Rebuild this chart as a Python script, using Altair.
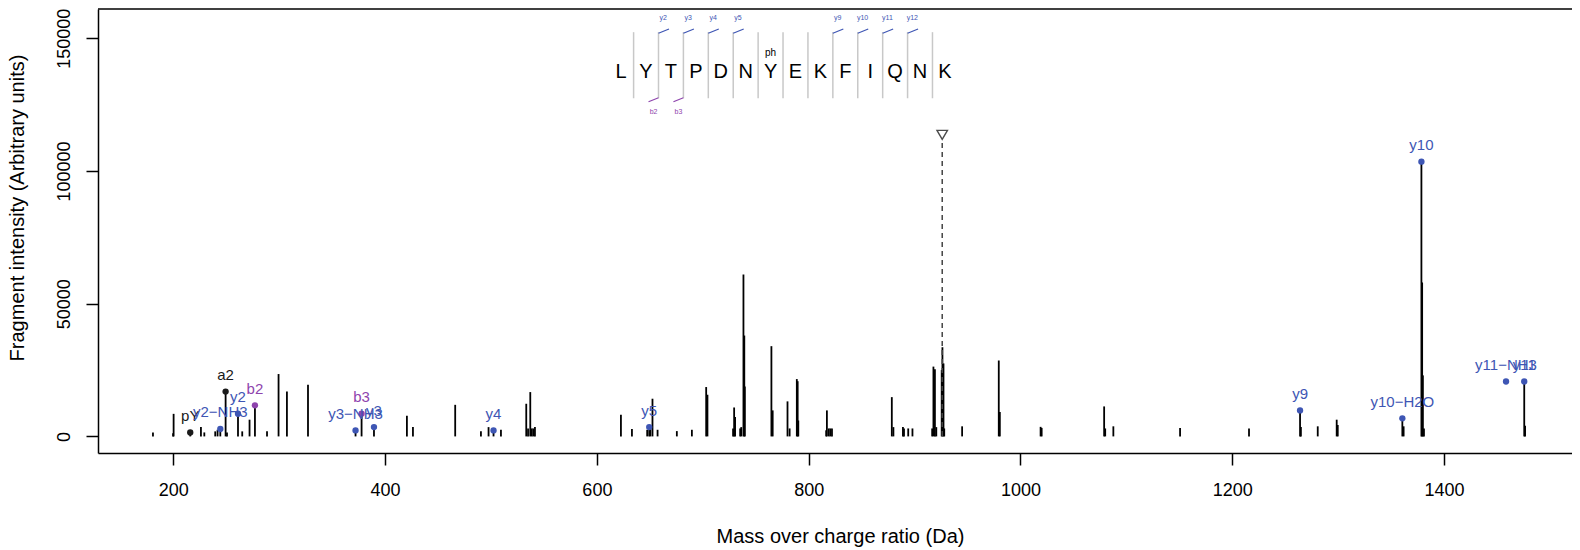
import altair as alt
import pandas as pd

# ---------------- data ----------------
peak_mz = [180.8, 199.8, 200.3, 216.0, 226.1, 229.3, 239.6, 241.8, 244.4, 249.4,
           250.7, 261.1, 265.1, 272.0, 277.1, 288.5, 299.4, 307.3, 327.2, 372.1,
           377.8, 389.5, 420.6, 426.3, 466.2, 490.5, 497.7, 502.4, 509.4, 533.3,
           535.0, 537.1, 538.5, 540.0, 541.5, 622.7, 633.1, 647.5, 649.4, 650.5,
           652.5, 657.3, 675.5, 689.7, 703.2, 704.4, 728.6, 729.6, 730.5, 735.3,
           736.3, 738.4, 739.2, 739.7, 764.8, 766.0, 780.0, 782.0, 788.8, 789.6,
           790.2, 816.5, 817.2, 819.0, 820.5, 822.0, 878.5, 880.0, 889.0, 890.0,
           894.0, 898.0, 916.6, 917.8, 919.2, 920.5, 925.6, 926.3, 927.3, 928.0,
           944.9, 979.5, 980.5, 1019.0, 1020.0, 1079.0, 1080.0, 1087.7, 1150.7, 1215.8,
           1264.0, 1264.8, 1280.7, 1298.6, 1299.6, 1360.6, 1361.8, 1378.6, 1379.3, 1380.0,
           1381.0, 1475.7, 1476.5]
peak_int = [1500, 1200, 8500, 1500, 3500, 1500, 1900, 2500, 2800, 16900,
            1500, 8550, 1900, 6300, 11700, 1900, 23500, 16900, 19500, 2250,
            8550, 3500, 7800, 3500, 11900, 1900, 3500, 2250, 2500, 12300,
            3000, 16700, 3000, 3000, 3500, 8150, 2800, 2500, 3500, 3000,
            14200, 2500, 2000, 2500, 18600, 15700, 3000, 10900, 7300, 3000,
            3500, 61000, 38000, 18800, 34000, 9800, 13200, 3000, 21600, 20800,
            6000, 2300, 9800, 3000, 3000, 3000, 14800, 3500, 3500, 3000,
            3000, 3000, 3000, 26300, 25300, 3500, 25000, 33600, 27500, 3000,
            3800, 28600, 9200, 3600, 3200, 11300, 3000, 3800, 3200, 3000,
            9800, 3500, 3800, 6300, 4300, 6800, 3800, 103500, 58000, 23000,
            3000, 20700, 4000]

ion_label = ["pY", "y2\u2212NH3", "a2", "y2", "b2", "y3\u2212NH3", "b3", "y3", "y4", "y5",
             "y9", "y10\u2212H2O", "y10", "y11\u2212NH3", "y11"]
ion_mz = [216.0, 244.4, 249.4, 261.1, 277.1, 372.1, 377.8, 389.5, 502.4, 649.4,
          1264.0, 1360.6, 1378.6, 1458.5, 1475.7]
ion_int = [1500, 2800, 16900, 8550, 11700, 2250, 8550, 3500, 2250, 3500,
           9800, 6800, 103500, 20700, 20700]
ion_kind = ["other", "y", "other", "y", "b", "y", "b", "y", "y", "y",
            "y", "y", "y", "y", "y"]

precursor_mz = [926.1]
precursor_int = [113600]

sequence = list("LYTPDNYEKFIQNK")
phospho_site = [6]
y_mark_text = ["y2", "y3", "y4", "y5", "y9", "y10", "y11", "y12"]
y_mark_sep = [1, 2, 3, 4, 8, 9, 10, 11]
b_mark_text = ["b2", "b3"]
b_mark_sep = [1, 2]

header_left = "Source : QE1_140612_OPL1013_CVA_phosphoproteomic_landscape_AML_C   Scan : 24773"
header_right = "Andromeda score : 57.434"

x_ticks = [200, 400, 600, 800, 1000, 1200, 1400]
y_ticks = [0, 50000, 100000, 150000]

# ---------------- layout (data units) ----------------
X_DOMAIN = [128.9, 1520.8]
Y_DOMAIN = [-6250, 161030]
SEQ_X0, SEQ_DX, SEQ_Y = 622.9, 23.52, 137400
SEP_Y0, SEP_Y1 = 127400, 152300
HEAD_Y = 162350

BLUE = "#3E56B4"
PURPLE = "#8E44AD"
KIND_COLOR = {"y": BLUE, "b": PURPLE, "other": "#1a1a1a"}
FONT = "Liberation Sans"

xs = alt.Scale(domain=X_DOMAIN, nice=False, zero=False)
ys = alt.Scale(domain=Y_DOMAIN, nice=False, zero=False)

x_axis = alt.Axis(values=x_ticks, format="d",
                  title="Mass over charge ratio (Da)", tickSize=12, labelPadding=16,
                  labelBaseline="top", labelFlush=False, labelOverlap=False,
                  titleFontSize=20,
                  titleX=742, titleY=89.4, titleAlign="center", titleBaseline="alphabetic")
y_axis = alt.Axis(values=y_ticks, format="d",
                  title="Fragment intensity (Arbitrary units)", tickSize=12, labelPadding=17,
                  labelAngle=270, labelAlign="center", labelBaseline="alphabetic",
                  labelFlush=False, labelOverlap=False, titleFontSize=20,
                  titleX=-74.5, titleY=198.5, titleAngle=270, titleAlign="center",
                  titleBaseline="alphabetic")


def X(field):
    return alt.X(field, type="quantitative", scale=xs, axis=x_axis)


def Y(field):
    return alt.Y(field, type="quantitative", scale=ys, axis=y_axis)


peaks = pd.DataFrame({"mz": peak_mz, "intensity": peak_int, "base": 0})
ions = pd.DataFrame({"mz": ion_mz, "intensity": ion_int, "label": ion_label,
                     "col": [KIND_COLOR[k] for k in ion_kind]})
prec = pd.DataFrame({"mz": precursor_mz, "intensity": precursor_int,
                     "top": [v - 3100 for v in precursor_int], "base": 0})

letters = pd.DataFrame({"aa": sequence,
                        "x": [SEQ_X0 + i * SEQ_DX for i in range(len(sequence))],
                        "y": SEQ_Y})
seps = pd.DataFrame({"x": [SEQ_X0 + (i + 0.5) * SEQ_DX for i in range(len(sequence) - 1)],
                     "y0": SEP_Y0, "y1": SEP_Y1})
ph = pd.DataFrame({"t": ["ph"] * len(phospho_site),
                   "x": [SEQ_X0 + i * SEQ_DX for i in phospho_site], "y": 144400})
ysep = [SEQ_X0 + (i + 0.5) * SEQ_DX for i in y_mark_sep]
ymarks = pd.DataFrame({"t": y_mark_text, "x": ysep, "x2": [v + 9.9 for v in ysep],
                       "y": 151900, "y2": 153500, "lx": [v + 4.5 for v in ysep],
                       "ly": 157600})
bsep = [SEQ_X0 + (i + 0.5) * SEQ_DX for i in b_mark_sep]
bmarks = pd.DataFrame({"t": b_mark_text, "x": bsep, "x2": [v - 9.4 for v in bsep],
                       "y": 127600, "y2": 126100, "lx": [v - 4.7 for v in bsep],
                       "ly": 122100})
heads = pd.DataFrame({"t": [header_left, header_right], "x": [493.6, 1335.0],
                      "y": HEAD_Y})

layers = []

# spectrum peaks (carries both axes)
layers.append(alt.Chart(peaks).mark_rule(color="black", strokeWidth=1.8).encode(
    x=X("mz"), y=Y("intensity"), y2=alt.Y2("base")))

# frame top line
layers.append(alt.Chart(pd.DataFrame({"y": [Y_DOMAIN[1]]})).mark_rule(
    color="black", strokeWidth=1.5).encode(y=Y("y")))

# precursor
layers.append(alt.Chart(prec).mark_rule(color="#444444", strokeWidth=1.5,
                                        strokeDash=[5, 4]).encode(
    x=X("mz"), y=Y("top"), y2=alt.Y2("base")))
layers.append(alt.Chart(prec).mark_point(shape="triangle-down", filled=False, size=110,
                                         color="black", strokeWidth=1.4).encode(
    x=X("mz"), y=Y("intensity")))

# annotated ions
layers.append(alt.Chart(ions).mark_circle(size=40, opacity=1).encode(
    x=X("mz"), y=Y("intensity"), color=alt.Color("col:N", scale=None)))
layers.append(alt.Chart(ions).mark_text(fontSize=15, font=FONT, dy=-16.5,
                                        baseline="middle").encode(
    x=X("mz"), y=Y("intensity"), text="label:N", color=alt.Color("col:N", scale=None)))

# sequence annotation
layers.append(alt.Chart(seps).mark_rule(color="#c8c8c8", strokeWidth=1.5).encode(
    x=X("x"), y=Y("y0"), y2=alt.Y2("y1")))
layers.append(alt.Chart(letters).mark_text(fontSize=20, font=FONT, color="black",
                                           baseline="middle").encode(
    x=X("x"), y=Y("y"), text="aa:N"))
layers.append(alt.Chart(ph).mark_text(fontSize=10, font=FONT, color="black",
                                      baseline="middle").encode(
    x=X("x"), y=Y("y"), text="t:N"))
layers.append(alt.Chart(ymarks).mark_rule(color=BLUE, strokeWidth=1.2).encode(
    x=X("x"), x2=alt.X2("x2"), y=Y("y"), y2=alt.Y2("y2")))
layers.append(alt.Chart(ymarks).mark_text(fontSize=7, font=FONT, color=BLUE,
                                          baseline="middle").encode(
    x=X("lx"), y=Y("ly"), text="t:N"))
layers.append(alt.Chart(bmarks).mark_rule(color=PURPLE, strokeWidth=1.2).encode(
    x=X("x"), x2=alt.X2("x2"), y=Y("y"), y2=alt.Y2("y2")))
layers.append(alt.Chart(bmarks).mark_text(fontSize=7, font=FONT, color=PURPLE,
                                          baseline="middle").encode(
    x=X("lx"), y=Y("ly"), text="t:N"))

# header texts (partly cut off above the frame, as in the source image)
layers.append(alt.Chart(heads).mark_text(fontSize=12, font=FONT, color="black",
                                         baseline="alphabetic").encode(
    x=X("x"), y=Y("y"), text="t:N"))

chart = alt.layer(*layers).properties(
    width=1474, height=444,
    padding={"left": 90, "top": 1, "right": 0, "bottom": 95},
    autosize=alt.AutoSizeParams(type="none"),
    background="white",
).configure_view(stroke=None).configure_axis(
    grid=False, labelFont=FONT, titleFont=FONT, labelFontSize=18, titleFontSize=18,
    titleFontWeight="normal", labelColor="black", titleColor="black",
    tickColor="black", domainColor="black", tickWidth=1.5, domainWidth=1.5,
)

chart.save("out.html", embed_options={"renderer": "svg", "actions": False})
